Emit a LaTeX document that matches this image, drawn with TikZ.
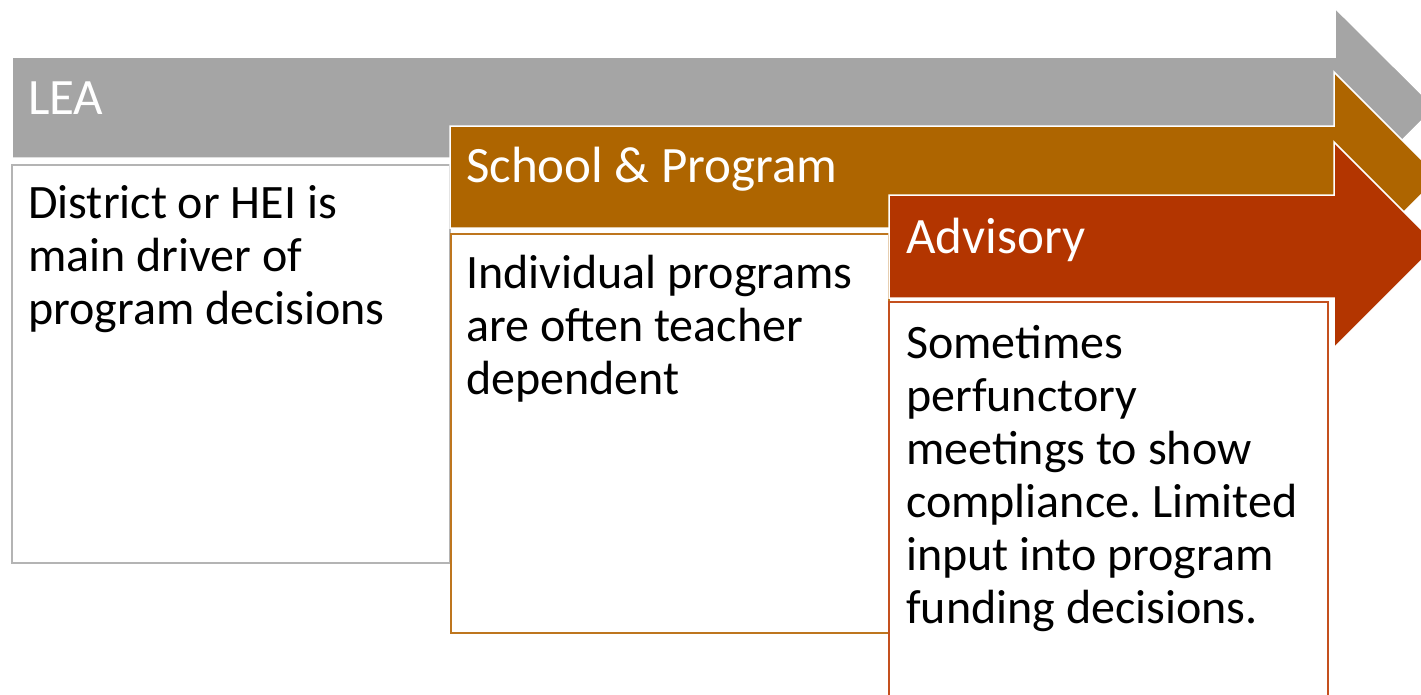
\documentclass[tikz,border=0pt]{standalone}
\usepackage{fontspec}
\setmainfont{Carlito}
\frenchspacing
\definecolor{leagray}{RGB}{165,165,165}
\definecolor{leaedge}{RGB}{180,180,180}
\definecolor{schbrown}{RGB}{174,101,0}
\definecolor{schedge}{RGB}{190,118,30}
\definecolor{advred}{RGB}{179,53,0}
\definecolor{advedge}{RGB}{196,80,30}
\tikzset{
  arrowshape/.style={draw=white, line width=1.5pt, line join=miter},
  bodybox/.style={fill=white, line width=2pt},
  headtext/.style={anchor=base west, inner sep=0pt, text=white, font=\fontsize{51}{53}\selectfont},
  bodytext/.style={anchor=base west, inner sep=0pt, text=black, align=left, font=\fontsize{48}{53}\selectfont\frenchspacing},
}
\begin{document}
\begin{tikzpicture}[x=1pt,y=-1pt]
\useasboundingbox (0,0) rectangle (1421,694);
\clip (0,0) rectangle (1421,694);
% LEA
\filldraw[arrowshape, fill=leagray] (12,57) -- (1335,57) -- (1335,8) -- (1435,107.5) -- (1335,207) -- (1335,158) -- (12,158) -- cycle;
\draw[bodybox, draw=leaedge] (12,165) rectangle (450,563);
\node[headtext] (lea) at (28,114) {LEA};
\node[bodytext] (leabody) at (28,324) {District or HEI is\\main driver of\\program decisions};
% School & Program
\filldraw[arrowshape, fill=schbrown] (450,126) -- (1334,126) -- (1334,72) -- (1439,177) -- (1334,282) -- (1334,228) -- (450,228) -- cycle;
\draw[bodybox, draw=schedge] (451,234) rectangle (889,633);
\node[headtext] (sch) at (466,182) {School \& Program};
\node[bodytext] (schbody) at (466,394) {Individual programs\\are often teacher\\dependent};
% Advisory
\filldraw[arrowshape, fill=advred] (889,195) -- (1334,195) -- (1334,142) -- (1437,245) -- (1334,348) -- (1334,298) -- (889,298) -- cycle;
\draw[bodybox, draw=advedge] (889,302) rectangle (1328,720);
\node[headtext] (adv) at (906,253) {Advisory};
\node[bodytext] (advbody) at (906,623) {Sometimes\\perfunctory\\meetings to show\\compliance. Limited\\input into program\\funding decisions.};
\end{tikzpicture}
\end{document}
